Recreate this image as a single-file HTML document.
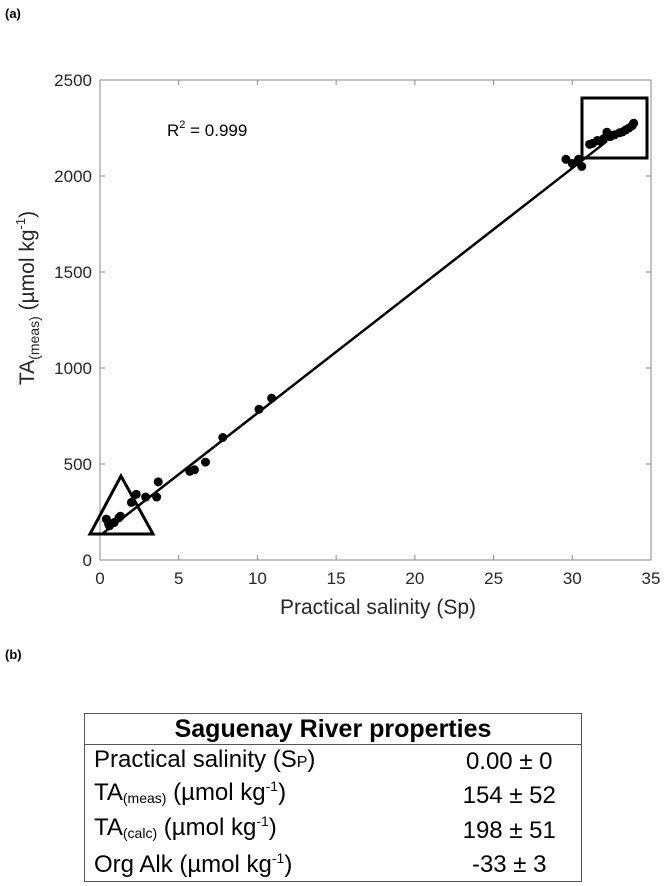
<!DOCTYPE html>
<html><head><meta charset="utf-8"><style>
body{margin:0;background:#fff;width:670px;height:886px;overflow:hidden;font-family:"Liberation Sans",sans-serif;}
.lab{position:absolute;font-weight:bold;font-size:13px;}
table{position:absolute;left:84px;top:713px;width:498px;height:164px;border-collapse:collapse;border:1.5px solid #555;font-size:24px;color:#000}
td{padding:0 0 0 9px;height:33px;line-height:30px}
td.v{text-align:center;padding:0 0 0 8px}
th{font-size:25px;height:28px;line-height:28px;border-bottom:1.5px solid #555}
sub{font-size:14px;vertical-align:-3px}
sup{font-size:14px;vertical-align:9px;line-height:0}
</style></head><body>
<div class="lab" style="left:5px;top:6px">(a)</div>
<div class="lab" style="left:5px;top:647px">(b)</div>
<svg id="chart" width="670" height="640" style="position:absolute;left:0;top:0"></svg>
<table>
<tr><th colspan="2">Saguenay River properties</th></tr>
<tr><td>Practical salinity (S<span style="font-size:16px">P</span>)</td><td class="v">0.00 ± 0</td></tr>
<tr><td>TA<sub>(meas)</sub> (µmol kg<sup>-1</sup>)</td><td class="v">154 ± 52</td></tr>
<tr><td>TA<sub>(calc)</sub> (µmol kg<sup>-1</sup>)</td><td class="v">198 ± 51</td></tr>
<tr><td>Org Alk (µmol kg<sup>-1</sup>)</td><td class="v">-33 ± 3</td></tr>
</table>
<script>
const salinity=[0.4,0.55,0.6,0.9,1.2,1.3,2.0,2.3,2.9,3.6,3.7,5.7,6.0,6.7,7.8,10.1,10.9,29.6,30.0,30.4,30.6,31.1,31.3,31.6,31.8,32.0,32.2,32.4,32.5,32.7,33.0,33.2,33.4,33.6,33.8,33.9];
const alkalinity=[213,187,178,195,220,228,300,342,328,328,407,462,470,510,638,785,843,2087,2065,2087,2050,2165,2170,2185,2180,2195,2228,2205,2210,2215,2225,2230,2240,2250,2262,2275];
const xTicks=[0,5,10,15,20,25,30,35];
const yTicks=[0,500,1000,1500,2000,2500];
const fitSlope=63.8, fitIntercept=127;
const NS='http://www.w3.org/2000/svg';
const svg=document.getElementById('chart');
const X0=100,X1=651,Y0=560,Y1=80;
const sx=v=>X0+(v-0)/35*(X1-X0);
const sy=v=>Y0-(v-0)/2500*(Y0-Y1);
function mk(t,a,p){const e=document.createElementNS(NS,t);for(const k in a)e.setAttribute(k,a[k]);(p||svg).appendChild(e);return e;}
const frame=mk('rect',{x:X0,y:Y1,width:X1-X0,height:Y0-Y1,fill:'none',stroke:'#8a8a8a','stroke-width':1});


xTicks.forEach(t=>{const x=sx(t);
mk('line',{x1:x,x2:x,y1:Y0,y2:Y0-5,stroke:'#8a8a8a'});mk('line',{x1:x,x2:x,y1:Y1,y2:Y1+5,stroke:'#8a8a8a'});
const tx=mk('text',{x:x,y:Y0+24,'text-anchor':'middle','font-size':17,fill:'#262626'});tx.textContent=t;

});
yTicks.forEach(t=>{const y=sy(t);
mk('line',{x1:X0,x2:X0+5,y1:y,y2:y,stroke:'#8a8a8a'});mk('line',{x1:X1,x2:X1-5,y1:y,y2:y,stroke:'#8a8a8a'});
const tx=mk('text',{x:X0-8,y:y+6,'text-anchor':'end','font-size':17,fill:'#262626'});tx.textContent=t;

});
const fit=mk('line',{x1:sx(0.2),y1:sy(fitIntercept+fitSlope*0.2),x2:sx(32.2),y2:sy(fitIntercept+fitSlope*32.2),stroke:'#000','stroke-width':2.5});


salinity.forEach((s,i)=>{const c=mk('circle',{cx:sx(s),cy:sy(alkalinity[i]),r:4.5,fill:'#000'});

});
const tri=mk('polygon',{points:'90,534 153,534 121,476',fill:'none',stroke:'#000','stroke-width':3});


const box=mk('rect',{x:582,y:98,width:65,height:60,fill:'none',stroke:'#000','stroke-width':3});


const r2=mk('text',{x:167,y:136,'font-size':17,fill:'#000'});


r2.innerHTML='R<tspan font-size="11" dy="-8">2</tspan><tspan dy="8"> = 0.999</tspan>';
const xl=mk('text',{x:378,y:614,'text-anchor':'middle','font-size':21,fill:'#262626'});


xl.textContent='Practical salinity (Sp)';
const yl=mk('text',{x:0,y:0,'text-anchor':'middle','font-size':21,fill:'#262626',transform:'translate(34,298) rotate(-90)'});


yl.innerHTML='TA<tspan font-size="14" dy="5">(meas)</tspan><tspan dy="-5"> (µmol kg</tspan><tspan font-size="13" dy="-9">-1</tspan><tspan dy="9">)</tspan>';
</script>
</body></html>
